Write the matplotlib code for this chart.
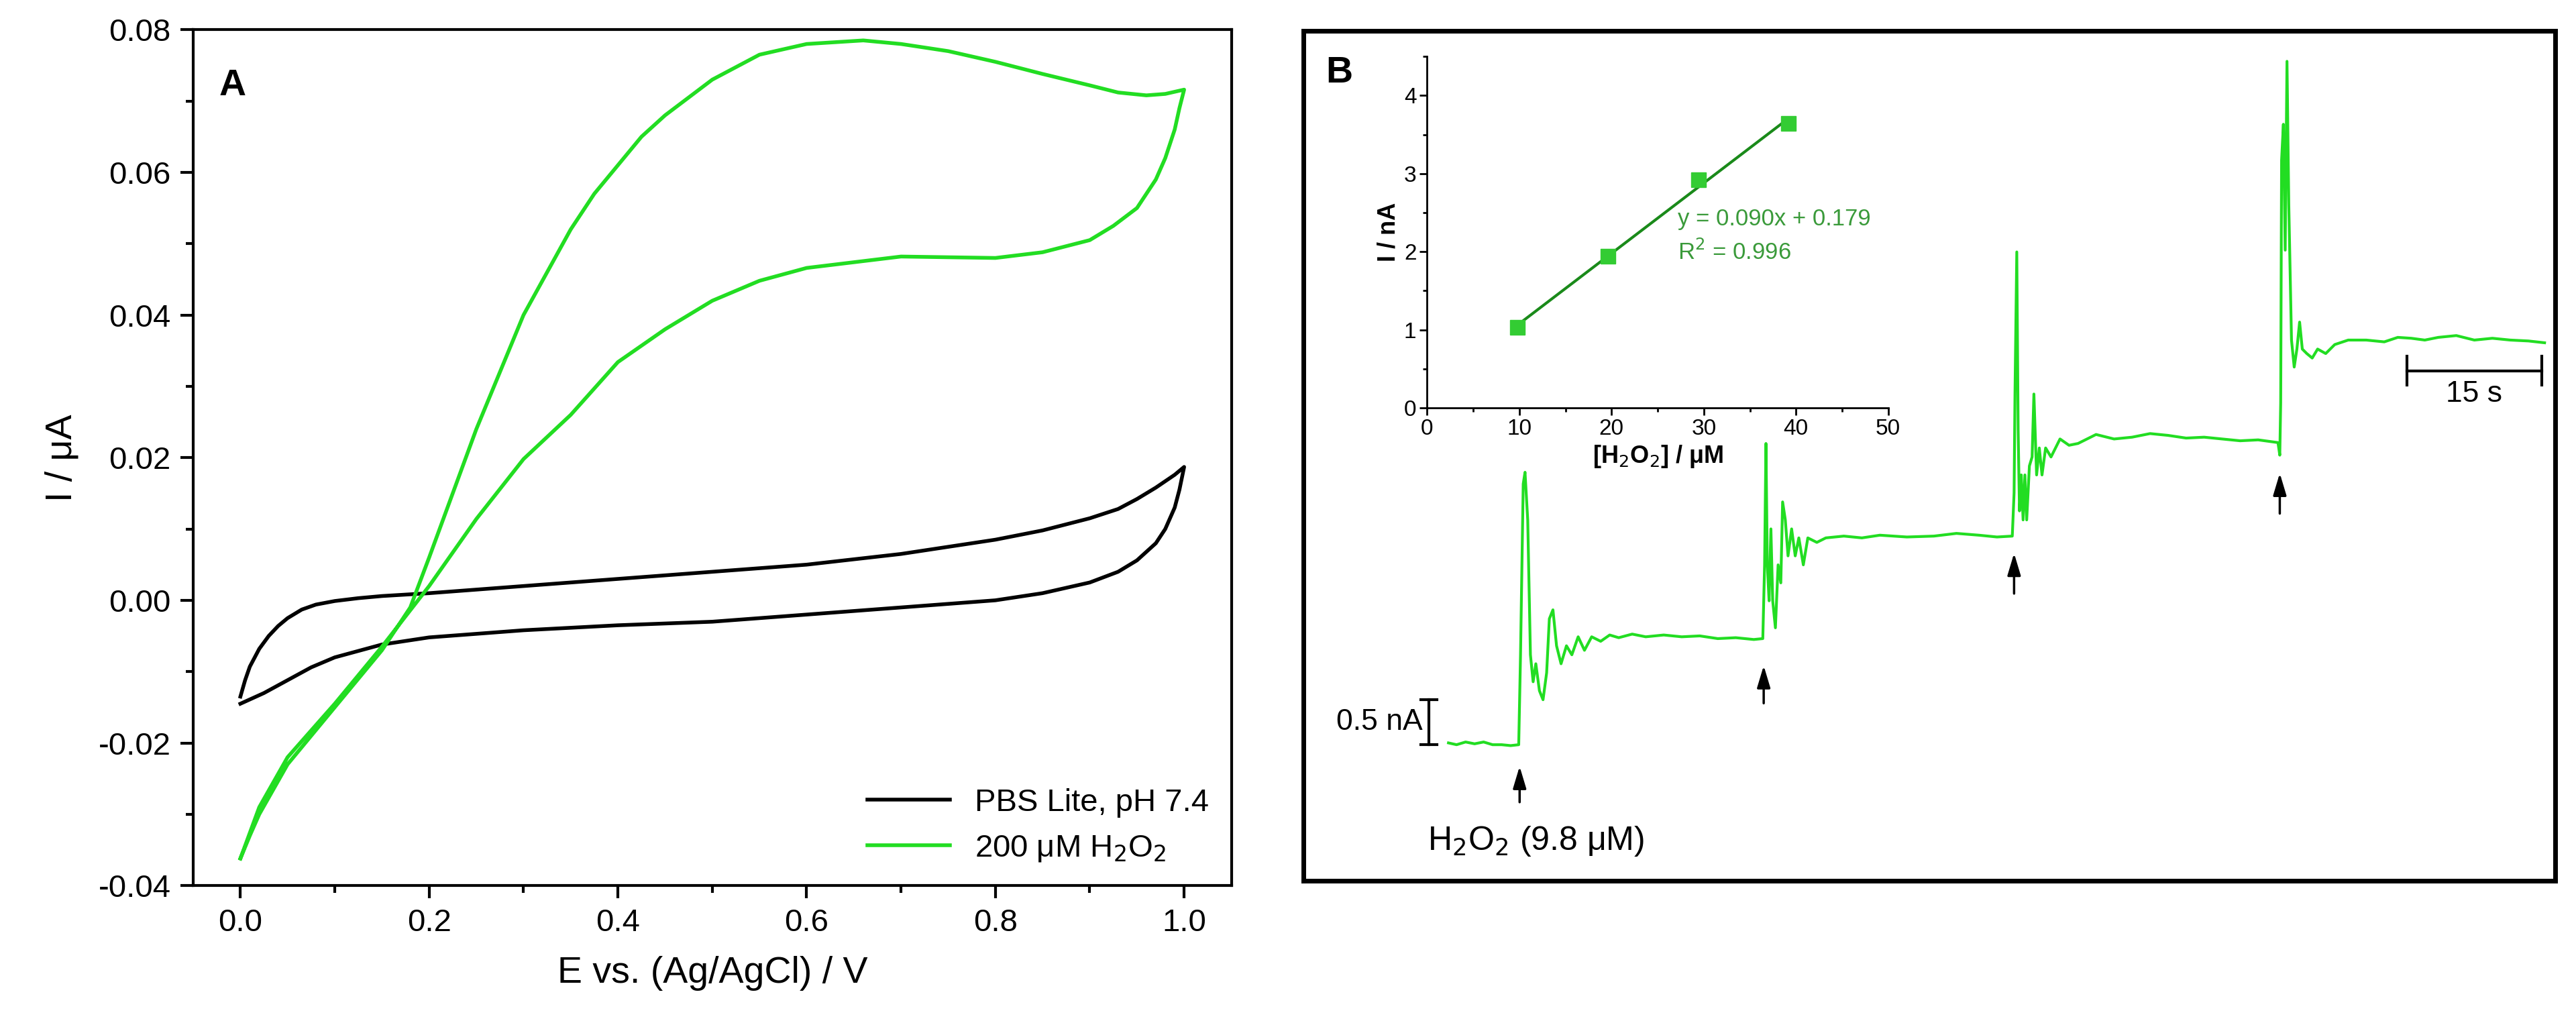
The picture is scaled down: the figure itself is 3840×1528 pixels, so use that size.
import matplotlib.pyplot as plt
import numpy as np
from matplotlib.ticker import MultipleLocator

plt.rcParams['font.family'] = ['Liberation Sans', 'DejaVu Sans']
green = '#22dd22'

# CV data, panel A
blk_fwd_e = [0.0, 0.005, 0.01, 0.02, 0.03, 0.04, 0.05, 0.065, 0.08, 0.1, 0.125, 0.15, 0.2, 0.3, 0.4, 0.5, 0.6, 0.7, 0.8, 0.85, 0.9, 0.93, 0.95, 0.97, 0.99, 1.0]
blk_fwd_i = [-0.0135, -0.0112, -0.0093, -0.0068, -0.0050, -0.0036, -0.0025, -0.0013, -0.0006, -0.0001, 0.0003, 0.0006, 0.001, 0.002, 0.003, 0.004, 0.005, 0.0065, 0.0085, 0.0098, 0.0115, 0.0128, 0.0142, 0.0158, 0.0176, 0.0187]
blk_rev_e = [1.0, 0.995, 0.99, 0.98, 0.97, 0.95, 0.93, 0.9, 0.85, 0.8, 0.7, 0.6, 0.5, 0.4, 0.3, 0.2, 0.15, 0.1, 0.075, 0.05, 0.025, 0.0]
blk_rev_i = [0.0187, 0.0155, 0.0130, 0.0100, 0.0080, 0.0056, 0.0040, 0.0025, 0.001, 0.0, -0.001, -0.002, -0.003, -0.0035, -0.0042, -0.0052, -0.0062, -0.008, -0.0094, -0.0112, -0.0130, -0.0145]
grn_fwd_e = [0.0, 0.01, 0.02, 0.05, 0.1, 0.15, 0.18, 0.2, 0.225, 0.25, 0.275, 0.3, 0.325, 0.35, 0.375, 0.4, 0.425, 0.45, 0.5, 0.55, 0.6, 0.66, 0.7, 0.75, 0.8, 0.85, 0.9, 0.93, 0.96, 0.98, 1.0]
grn_fwd_i = [-0.0362, -0.0330, -0.030, -0.023, -0.015, -0.007, -0.001, 0.006, 0.015, 0.024, 0.032, 0.040, 0.046, 0.052, 0.057, 0.061, 0.065, 0.068, 0.073, 0.0765, 0.078, 0.0785, 0.078, 0.077, 0.0755, 0.0738, 0.0722, 0.0712, 0.0708, 0.0710, 0.0716]
grn_rev_e = [1.0, 0.995, 0.99, 0.98, 0.97, 0.95, 0.925, 0.9, 0.85, 0.8, 0.7, 0.6, 0.55, 0.5, 0.45, 0.4, 0.35, 0.3, 0.25, 0.2, 0.15, 0.1, 0.05, 0.02, 0.0]
grn_rev_i = [0.0716, 0.0690, 0.066, 0.062, 0.059, 0.055, 0.0525, 0.0505, 0.0488, 0.048, 0.0482, 0.0466, 0.0448, 0.042, 0.038, 0.0334, 0.026, 0.0198, 0.0114, 0.002, -0.0065, -0.0145, -0.022, -0.029, -0.0362]

# amperometric trace, panel B (s, nA)
trace_t = [16.1, 17, 18, 19, 20, 21, 22, 23, 23.9, 24.1, 24.4, 24.6, 24.9, 25.2, 25.5, 25.8, 26.2, 26.6, 27.0, 27.3, 27.7, 28.1, 28.6, 29.2, 29.8, 30.5, 31.2, 32, 33, 34, 35, 36.5, 38, 40, 42, 44, 46, 48, 50, 51.0,
           51.2, 51.35, 51.5, 51.7, 51.9, 52.1, 52.4, 52.7, 53.0, 53.2, 53.5, 53.8, 54.2, 54.6, 55, 55.5, 56, 57, 58, 60, 62, 64, 67, 70, 72.5, 75, 77, 78.7,
           78.9, 79.0, 79.2, 79.35, 79.5, 79.7, 79.9, 80.1, 80.3, 80.6, 80.9, 81.1, 81.4, 81.7, 82, 82.4, 83, 84, 85, 86, 88, 90, 92, 94, 96, 98, 100, 102, 104, 106, 108.2, 108.4,
           108.5, 108.6, 108.8, 109.0, 109.2, 109.4, 109.7, 110.0, 110.3, 110.6, 110.9, 111.4, 112, 112.6, 113.5, 114.5, 116, 118, 120, 121.5, 123, 124.5, 126, 128, 130, 132, 134, 136, 137.8]
trace_i = [0.02, 0.0, 0.03, 0.01, 0.03, 0.0, 0.0, -0.01, 0.0, 1.0, 2.9, 3.03, 2.5, 1.0, 0.7, 0.9, 0.6, 0.5, 0.8, 1.4, 1.5, 1.1, 0.9, 1.1, 1.0, 1.2, 1.05, 1.2, 1.15, 1.22, 1.19, 1.23, 1.2, 1.22, 1.2, 1.21, 1.18, 1.19, 1.17, 1.18,
           2.0, 3.35, 2.0, 1.6, 2.4, 1.6, 1.3, 2.0, 1.8, 2.7, 2.5, 2.1, 2.4, 2.1, 2.3, 2.0, 2.3, 2.25, 2.3, 2.32, 2.30, 2.33, 2.31, 2.32, 2.35, 2.33, 2.31, 2.32,
           2.8, 3.9, 5.48, 3.5, 2.6, 3.0, 2.5, 3.0, 2.5, 3.1, 3.2, 3.9, 3.0, 3.3, 3.0, 3.3, 3.2, 3.4, 3.33, 3.35, 3.45, 3.40, 3.42, 3.46, 3.44, 3.41, 3.42, 3.40, 3.38, 3.39, 3.36, 3.22,
           3.8, 6.5, 6.9, 5.5, 7.6, 6.0, 4.5, 4.2, 4.4, 4.7, 4.4, 4.35, 4.3, 4.4, 4.35, 4.45, 4.5, 4.5, 4.48, 4.53, 4.52, 4.50, 4.53, 4.55, 4.5, 4.52, 4.5, 4.49, 4.47]
arrow_t = [24.0, 51.1, 78.9, 108.4]
arrow_tip = [-0.22, 0.90, 2.15, 3.04]
arrow_tail = [-0.66, 0.44, 1.66, 2.55]

# calibration inset
conc = [9.8, 19.6, 29.4, 39.2]
resp = [1.03, 1.94, 2.92, 3.64]
slope, icpt = 0.090, 0.179

fig = plt.figure(figsize=(38.4, 15.28), dpi=100)

# ---- panel A
ax = fig.add_axes([0.075, 0.136, 0.403, 0.835])
ax.plot(blk_fwd_e + blk_rev_e, blk_fwd_i + blk_rev_i, color='black', lw=4, label='PBS Lite, pH 7.4')
ax.plot(grn_fwd_e + grn_rev_e, grn_fwd_i + grn_rev_i, color=green, lw=4, label='200 μM H$_2$O$_2$')
ax.set_xlim(-0.05, 1.05)
ax.set_ylim(-0.04, 0.08)
ax.xaxis.set_major_locator(MultipleLocator(0.2))
ax.xaxis.set_minor_locator(MultipleLocator(0.1))
ax.yaxis.set_major_locator(MultipleLocator(0.02))
ax.yaxis.set_minor_locator(MultipleLocator(0.01))
ax.xaxis.set_major_formatter(lambda v, p: f'{v:.1f}')
ax.yaxis.set_major_formatter(lambda v, p: f'{v:.2f}')
ax.tick_params(which='major', direction='out', length=14, width=3, labelsize=34, pad=10)
ax.tick_params(which='minor', direction='out', length=8, width=3)
for s in ax.spines.values():
    s.set_linewidth(3)
ax.set_xlabel('E vs. (Ag/AgCl) / V', fontsize=40, labelpad=20)
ax.set_ylabel('I / μA', fontsize=40, labelpad=20)
ax.text(0.025, 0.955, 'A', transform=ax.transAxes, fontsize=40, fontweight='bold', va='top')
ax.legend(loc='lower right', frameon=False, fontsize=34, handlelength=2.6, borderaxespad=0.3)

# ---- panel B
bx = fig.add_axes([0.506, 0.141, 0.486, 0.829])
bx.set_xlim(0, 139)
bx.set_ylim(-1.51, 7.94)
bx.set_xticks([])
bx.set_yticks([])
for s in bx.spines.values():
    s.set_linewidth(5)
bx.plot(trace_t, trace_i, color=green, lw=3)
for t, a, b in zip(arrow_t, arrow_tip, arrow_tail):
    bx.annotate('', xy=(t, a), xytext=(t, b),
                arrowprops=dict(arrowstyle='-|>,head_width=0.6,head_length=2.0', color='black', lw=2.5))
bx.plot([13.9, 13.9], [0, 0.5], color='black', lw=3)
bx.plot([13.0, 14.8], [0, 0], color='black', lw=3)
bx.plot([13.0, 14.8], [0.5, 0.5], color='black', lw=3)
bx.text(13.2, 0.25, '0.5 nA', ha='right', va='center', fontsize=32)
bx.plot([122.5, 137.5], [4.16, 4.16], color='black', lw=3)
bx.plot([122.5, 122.5], [4.0, 4.32], color='black', lw=3)
bx.plot([137.5, 137.5], [4.0, 4.32], color='black', lw=3)
bx.text(130, 3.9, '15 s', ha='center', va='center', fontsize=32)
bx.text(13.8, -1.07, 'H$_2$O$_2$ (9.8 μM)', ha='left', va='center', fontsize=36)
bx.text(2.5, 7.47, 'B', ha='left', va='center', fontsize=40, fontweight='bold')

# ---- inset
ix = fig.add_axes([0.554, 0.602, 0.179, 0.343])
ix.plot([conc[0], conc[-1]], [slope * conc[0] + icpt, slope * conc[-1] + icpt], color='#1a8a1a', lw=3)
ix.plot(conc, resp, 's', color='#33cc33', ms=16)
ix.set_xlim(0, 50)
ix.set_ylim(0, 4.5)
ix.spines['top'].set_visible(False)
ix.spines['right'].set_visible(False)
for s in ['left', 'bottom']:
    ix.spines[s].set_linewidth(2)
ix.xaxis.set_major_locator(MultipleLocator(10))
ix.xaxis.set_minor_locator(MultipleLocator(5))
ix.yaxis.set_major_locator(MultipleLocator(1))
ix.yaxis.set_minor_locator(MultipleLocator(0.5))
ix.tick_params(which='major', direction='out', length=8, width=2, labelsize=24)
ix.tick_params(which='minor', direction='out', length=4, width=2)
ix.set_xlabel('[H$_2$O$_2$] / μM', fontsize=26, fontweight='bold')
ix.set_ylabel('I / nA', fontsize=26, fontweight='bold')
ix.text(27.2, 2.2, f'y = {slope:.3f}x + {icpt:.3f}\nR$^2$ = 0.996', color='#3a9a3a', fontsize=25,
        va='center', linespacing=1.5)

fig.savefig('out.png', dpi=100)
